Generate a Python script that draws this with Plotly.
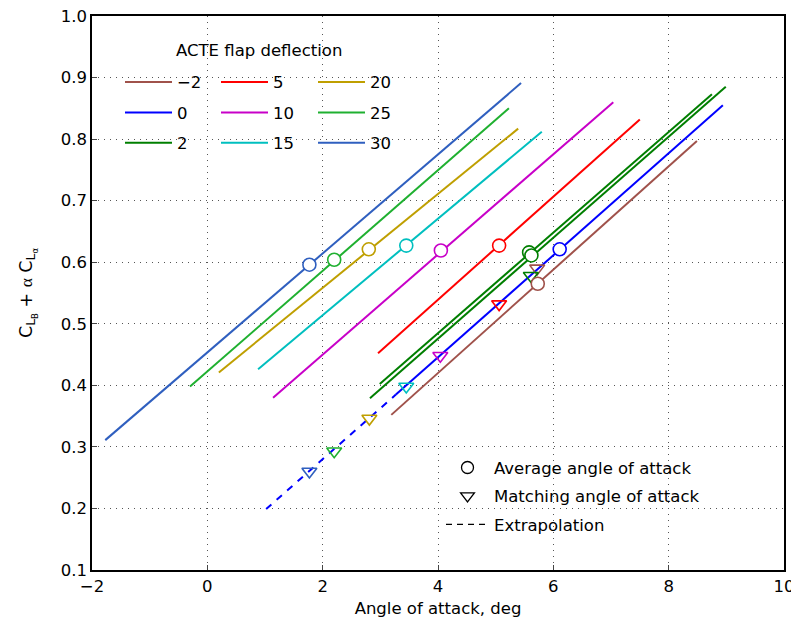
import plotly.graph_objects as go

# ---- data ----
deflection = [-2, 0, 2, 5, 10, 15, 20, 25, 30]
colors = ["#A0524B", "#0000FF", "#007F00", "#FF0000", "#C800C8",
          "#00BFBF", "#BF9F00", "#1FB030", "#2F5FBF"]
alpha_start = [3.19, 3.27, 2.99, 2.96, 1.14, 0.88, 0.20, -0.30, -1.77]
alpha_end = [8.49, 8.94, 8.75, 7.50, 7.04, 5.80, 5.39, 5.23, 5.44]
cl_start = [0.352, 0.385, 0.402, 0.452, 0.380, 0.426, 0.421, 0.398, 0.311]
cl_end = [0.797, 0.855, 0.873, 0.832, 0.860, 0.812, 0.817, 0.850, 0.891]

# second run for 2 deg deflection
alpha2_run = [2.82, 8.99]
cl2_run = [0.379, 0.885]
avg2_run = (5.62, 0.611)

avg_alpha = [5.73, 6.11, 5.58, 5.06, 4.05, 3.45, 2.80, 2.20, 1.77]
avg_cl = [0.565, 0.621, 0.616, 0.627, 0.619, 0.627, 0.621, 0.604, 0.596]
match_alpha = [5.72, None, 5.61, 5.06, 4.04, 3.45, 2.81, 2.20, 1.77]
match_cl = [0.590, None, 0.578, 0.532, 0.448, 0.398, 0.346, 0.293, 0.260]

extrap_alpha = [1.02, 3.27]
extrap_cl = [0.199, 0.385]

x_ticks = [-2, 0, 2, 4, 6, 8, 10]
y_ticks = [0.1, 0.2, 0.3, 0.4, 0.5, 0.6, 0.7, 0.8, 0.9, 1.0]

FONT = "DejaVu Sans"
FS = 16.5

fig = go.Figure()

legends = ["legend", "legend2", "legend3"]

# lines
for i, d in enumerate(deflection):
    fig.add_trace(go.Scatter(
        x=[alpha_start[i], alpha_end[i]], y=[cl_start[i], cl_end[i]],
        mode="lines", line=dict(color=colors[i], width=2),
        name="\u2212" + str(abs(d)) if d < 0 else str(d),
        legend=legends[i // 3], legendgroup="g%d" % i,
    ))
    if d == 2:
        fig.add_trace(go.Scatter(
            x=alpha2_run, y=cl2_run, mode="lines",
            line=dict(color=colors[i], width=2), showlegend=False,
        ))

# extrapolation
fig.add_trace(go.Scatter(
    x=extrap_alpha, y=extrap_cl, mode="lines",
    line=dict(color=colors[1], width=2, dash="7px,7px"), showlegend=False,
))

# matching angle markers
for i, d in enumerate(deflection):
    if match_alpha[i] is None:
        continue
    fig.add_trace(go.Scatter(
        x=[match_alpha[i]], y=[match_cl[i]], mode="markers",
        marker=dict(symbol="triangle-down-open", size=13,
                    color=colors[i], line=dict(width=1.6, color=colors[i])),
        showlegend=False,
    ))

# average angle markers
for i, d in enumerate(deflection):
    xs = [avg_alpha[i]]
    ys = [avg_cl[i]]
    if d == 2:
        xs.append(avg2_run[0])
        ys.append(avg2_run[1])
    fig.add_trace(go.Scatter(
        x=xs, y=ys, mode="markers",
        marker=dict(symbol="circle", size=13, color="white",
                    line=dict(width=1.6, color=colors[i])),
        showlegend=False,
    ))

# symbol legend
fig.add_trace(go.Scatter(x=[None], y=[None], mode="markers", name="Average angle of attack",
                         marker=dict(symbol="circle-open", size=12, color="black", line=dict(width=1.3)),
                         legend="legend4", legendgroup="s1"))
fig.add_trace(go.Scatter(x=[None], y=[None], mode="markers", name="Matching angle of attack",
                         marker=dict(symbol="triangle-down-open", size=12, color="black", line=dict(width=1.3)),
                         legend="legend4", legendgroup="s2"))
fig.add_trace(go.Scatter(x=[None], y=[None], mode="lines", name="Extrapolation",
                         line=dict(color="black", width=1.3, dash="6px,5px"),
                         legend="legend4", legendgroup="s3"))

# page body has an 8px margin: compensate so the plot area sits at 92..784 x 16..562
OFF = 8
W, H = 799 - OFF, 622 - OFF
L, R, T, B = 92 - OFF, 15, 16 - OFF, 60 - OFF
PL, PR, PT, PB = 92, 784, 16, 562


def px(xp):
    return (xp - PL) / (PR - PL)


def py(yp):
    return (PB - yp) / (PB - PT)


leg_common = dict(font=dict(family=FONT, size=FS, color="black"), bgcolor="rgba(0,0,0,0)",
                  borderwidth=0, xanchor="left", yanchor="top", itemwidth=47,
                  tracegroupgap=6, orientation="v", traceorder="grouped")

GRID = "#555555"
DOT = "1px,5px"

fig.update_layout(
    width=W, height=H,
    margin=dict(l=L, r=R, t=T, b=B, autoexpand=False),
    paper_bgcolor="white", plot_bgcolor="white",
    font=dict(family=FONT, size=FS, color="black"),
    legend=dict(x=px(120), y=py(64), **leg_common),
    legend2=dict(x=px(216), y=py(64), **leg_common),
    legend3=dict(x=px(313), y=py(64), **leg_common),
    legend4=dict(x=px(441), y=py(444), **{**leg_common, "itemwidth": 43, "tracegroupgap": 4}),
    xaxis=dict(range=[-2, 10], tickvals=x_ticks, ticks="inside", ticklen=5,
               showline=True, mirror=True, linecolor="black", linewidth=1.5,
               showgrid=True, gridcolor=GRID, griddash=DOT, gridwidth=1,
               zeroline=False, automargin=False, ticklabeloverflow="allow",
               title=dict(text="Angle of attack, deg", standoff=8,
                          font=dict(family=FONT, size=FS, color="black")),
               tickfont=dict(size=FS)),
    yaxis=dict(range=[0.1, 1.0], tickvals=y_ticks, tickformat=".1f", ticks="inside", ticklen=5,
               showline=True, mirror=True, linecolor="black", linewidth=1.5,
               showgrid=True, gridcolor=GRID, griddash=DOT, gridwidth=1,
               zeroline=False, automargin=False, ticklabeloverflow="allow",
               title=dict(text="C<sub>L<sub>B</sub></sub> + <span style=\"font-family:Liberation Serif\">\u03b1</span> C<sub>L<sub>\u03b1</sub></sub>",
                          standoff=24, font=dict(family=FONT, size=17.5, color="black")),
               tickfont=dict(size=FS)),
    shapes=[
        dict(type="rect", xref="paper", yref="paper", x0=0, x1=px(410), y0=py(162), y1=1,
             fillcolor="white", line=dict(width=0), layer="between"),
        dict(type="rect", xref="paper", yref="paper", x0=px(425), x1=1, y0=0, y1=py(447),
             fillcolor="white", line=dict(width=0), layer="between"),
    ],
    annotations=[
        dict(text="ACTE flap deflection", xref="paper", yref="paper", x=px(259), y=py(50),
             showarrow=False, font=dict(family=FONT, size=FS, color="black"),
             xanchor="center", yanchor="middle"),
    ],
)

fig.write_html("out.html")
